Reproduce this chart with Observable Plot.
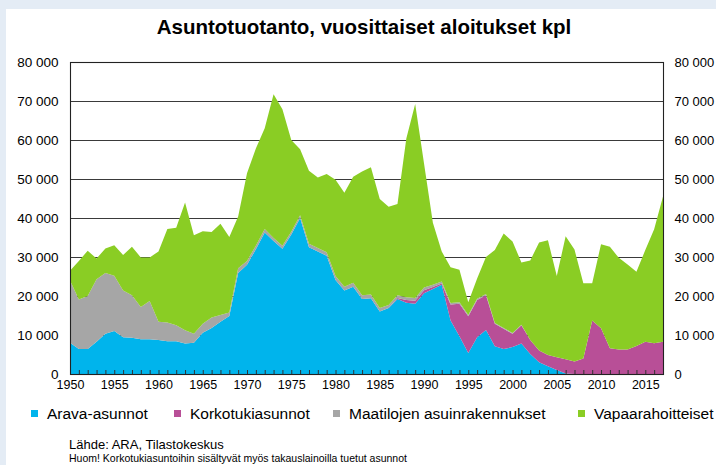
<!DOCTYPE html>
<html>
<head>
<meta charset="utf-8">
<script src="https://cdn.jsdelivr.net/npm/d3@7"></script>
<script src="https://cdn.jsdelivr.net/npm/@observablehq/plot@0.6"></script>
<style>
  html, body { margin: 0; padding: 0; width: 716px; height: 465px; overflow: hidden; background: #e4ecf5; }
  #panel { position: absolute; left: 6px; top: 9px; width: 710px; height: 456px; background: #ffffff; }
  #title { position: absolute; left: 0; top: 15px; width: 728px; text-align: center; font: bold 20.5px "Liberation Sans", Arial, sans-serif; color: #000; }
  #chart { position: absolute; left: 0; top: 0; }
  .leg { position: absolute; top: 405px; font: 15.5px "Liberation Sans", Arial, sans-serif; color: #000; white-space: nowrap; }
  .leg i { display: inline-block; width: 7px; height: 7px; margin-right: 9px; vertical-align: 2px; }
  #src { position: absolute; left: 69px; top: 438px; font: 13px "Liberation Sans", Arial, sans-serif; line-height: 14px; color: #000; }
  #note { position: absolute; left: 69px; top: 453px; font: 10.5px "Liberation Sans", Arial, sans-serif; line-height: 11px; color: #000; white-space: nowrap; }
</style>
</head>
<body>
<div id="panel"></div>
<div id="title">Asuntotuotanto, vuosittaiset aloitukset kpl</div>
<div id="chart"></div>
<div id="legend"></div>
<div id="src">Lähde: ARA, Tilastokeskus</div>
<div id="note">Huom! Korkotukiasuntoihin sisältyvät myös takauslainoilla tuetut asunnot</div>
<script>
// Years 1950..2017
const years = d3.range(1950, 2018);
const seriesNames = ["Arava-asunnot", "Korkotukiasunnot", "Maatilojen asuinrakennukset", "Vapaarahoitteiset"];
const seriesColors = ["#00b4ec", "#b84f97", "#a6a6a6", "#8acd24"];

const arava = [
  8000, 6400, 6400, 8300, 10300, 11000, 9400, 9300, 8900, 8900,
  8700, 8400, 8400, 7800, 8000, 10600, 11800, 13400, 14900, 25900,
  28000, 32000, 36300, 34100, 32100, 35800, 40000, 32500, 31400, 30300,
  24100, 21400, 22400, 19200, 19400, 16000, 16900, 19200, 18300, 18000,
  20700, 21800, 22900, 13700, 9700, 5400, 9400, 11300, 7100, 6400,
  6900, 7800, 5100, 3000, 2000, 1000, 150, 0, 0, 0,
  0, 0, 0, 0, 0, 0, 0, 0
];
const korkotuki = [
  0, 0, 0, 0, 0, 0, 0, 0, 0, 0,
  0, 0, 0, 0, 0, 0, 0, 0, 0, 0,
  0, 0, 0, 0, 0, 0, 0, 0, 0, 0,
  0, 0, 0, 0, 0, 0, 0, 300, 700, 800,
  800, 500, 300, 4100, 8300, 9400, 9600, 8900, 5800, 5200,
  3400, 4700, 3600, 3000, 2900, 3300, 3650, 3200, 4000, 13700,
  11700, 6600, 6300, 6300, 7200, 8300, 7900, 8300
];
const maatilat = [
  16000, 12700, 13600, 16000, 15600, 14200, 12000, 10900, 8300, 9800,
  4700, 4800, 4100, 3400, 2300, 2300, 2700, 1700, 900, 1200,
  1000, 900, 900, 800, 800, 700, 700, 900, 900, 900,
  1000, 1000, 1000, 1000, 1000, 900, 800, 700, 700, 700,
  700, 600, 500, 400, 400, 300, 300, 300, 200, 200,
  200, 100, 0, 0, 0, 0, 0, 0, 0, 0,
  0, 0, 0, 0, 0, 0, 0, 0
];
const vapaa = [
  2500, 9900, 11600, 5300, 6300, 7800, 9100, 12400, 12700, 11200,
  18000, 24000, 25000, 32800, 25300, 23700, 21900, 23400, 19300, 13300,
  22500, 24900, 25800, 36800, 35000, 23500, 16900, 18700, 18100, 20100,
  24700, 24100, 27200, 31700, 32600, 28000, 25200, 23400, 40700, 49700,
  31800, 15900, 7700, 9200, 8300, 3300, 5200, 9500, 18700, 24200,
  23500, 16000, 20400, 27700, 29400, 20800, 31500, 28700, 19300, 9600,
  21600, 26000, 23500, 21800, 19000, 23500, 29200, 37200
];
const yTicks = [0, 10000, 20000, 30000, 40000, 50000, 60000, 70000, 80000];
const xLabelYears = [1950, 1955, 1960, 1965, 1970, 1975, 1980, 1985, 1990, 1995, 2000, 2005, 2010, 2015];

const seriesValues = [arava, korkotuki, maatilat, vapaa];
const rows = [];
seriesNames.forEach((name, s) => {
  years.forEach((yr, i) => rows.push({year: yr, series: name, value: seriesValues[s][i]}));
});

const fmt = d => d3.format(",")(d).replace(/,/g, " ");

const chart = Plot.plot({
  width: 716,
  height: 395,
  marginLeft: 70,
  marginRight: 53,
  marginTop: 62,
  marginBottom: 21,
  style: {background: "transparent", fontFamily: "'Liberation Sans', Arial, sans-serif", fontSize: "13px", color: "#000"},
  x: {domain: [1950, 2017], label: null},
  y: {domain: [0, 80000], label: null},
  color: {domain: seriesNames, range: seriesColors},
  marks: [
    Plot.ruleY(yTicks, {y: d => d, stroke: "#3a3a3a", strokeWidth: 1.1}),
    Plot.areaY(rows, {x: "year", y: "value", fill: "series", z: "series"}),
    Plot.ruleX(years, {x: d => d, insetTop: 308, stroke: "#333", strokeWidth: 1}),
    Plot.frame({stroke: "#222", strokeWidth: 1.1}),
    Plot.axisY(yTicks, {anchor: "left", tickSize: 0, tickPadding: 12, tickFormat: fmt, label: null, fontSize: 13.5}),
    Plot.axisY(yTicks, {anchor: "right", tickSize: 0, tickPadding: 11, tickFormat: fmt, label: null, fontSize: 13}),
    Plot.axisX(xLabelYears, {anchor: "bottom", tickSize: 0, tickPadding: 6, tickFormat: d => String(d), label: null, fontSize: 12.5})
  ]
});
document.getElementById("chart").appendChild(chart);

// Legend
const legendX = [31, 174, 333, 578];
const legend = document.getElementById("legend");
seriesNames.forEach((name, i) => {
  const el = document.createElement("div");
  el.className = "leg";
  el.style.left = legendX[i] + "px";
  el.innerHTML = `<i style="background:${seriesColors[i]}"></i>${name}`;
  legend.appendChild(el);
});
</script>
</body>
</html>
